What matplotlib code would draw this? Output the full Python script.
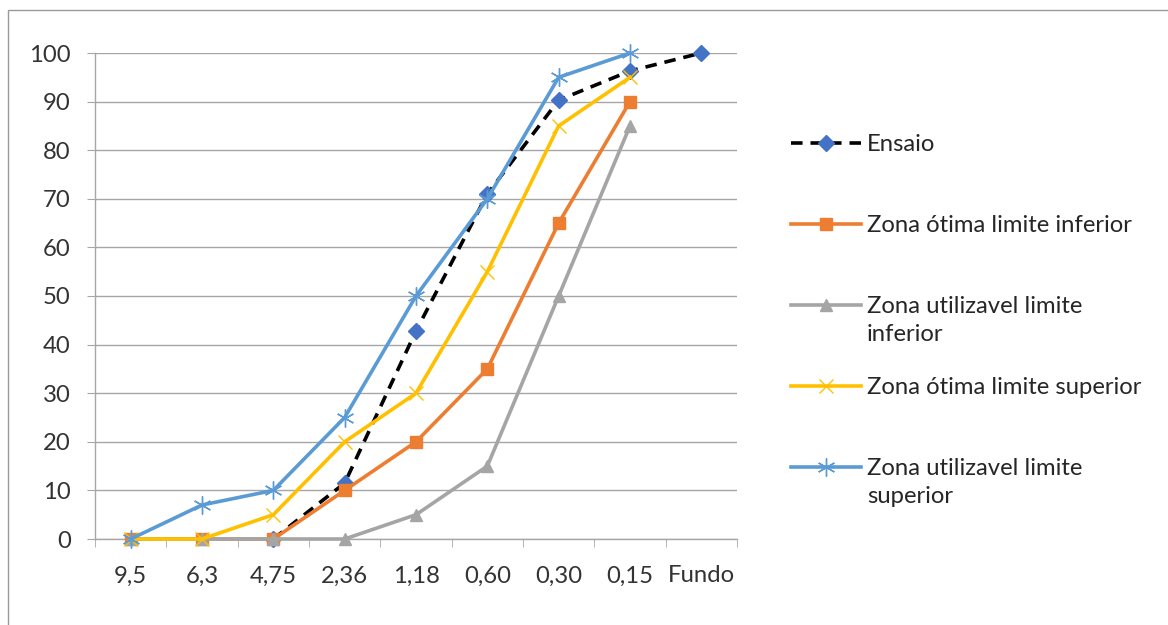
"""
Curva granulometrica - ensaio vs zonas limite
"""
import numpy as np
import matplotlib
matplotlib.use('Agg')
import matplotlib.pyplot as plt
from matplotlib.lines import Line2D
from matplotlib.patches import Rectangle

plt.rcParams['font.family'] = ['Lato', 'DejaVu Sans']

# peneiras (mm)
categories = ['9,5', '6,3', '4,75', '2,36', '1,18', '0,60', '0,30', '0,15', 'Fundo']

# % passante acumulada
ensaio = [np.nan, np.nan, 0, 11.5, 42.8, 71, 90.3, 96.3, 100]
otima_inf = [0, 0, 0, 10, 20, 35, 65, 90, np.nan]
util_inf = [0, 0, 0, 0, 5, 15, 50, 85, np.nan]
otima_sup = [0, 0, 5, 20, 30, 55, 85, 95, np.nan]
util_sup = [0, 7, 10, 25, 50, 70, 95, 100, np.nan]

labels = ['Ensaio', 'Zona ótima limite inferior', 'Zona utilizavel limite\ninferior',
          'Zona ótima limite superior', 'Zona utilizavel limite\nsuperior']

W, H = 1168, 625
FS = 17.2
fig = plt.figure(figsize=(W / 100, H / 100), dpi=100)
fig.patch.set_facecolor('white')

# chart border (only top/left visible in the crop)
fig.add_artist(Rectangle((8 / W, -0.1), 1.2, 1 - 9.5 / H + 0.1, transform=fig.transFigure,
                         fill=False, edgecolor='#9a9a9a', linewidth=1))

ax = fig.add_axes([95 / W, (H - 539) / H, (737 - 95) / W, (539 - 53) / H])

x = np.arange(len(categories))
grid_c = '#a6a6a6'
text_c = '#333333'

styles = [
    dict(color='black', ls=(0, (3.2, 2.2)), lw=2.6, marker='D', ms=8,
         mfc='#4472c4', mec='#4472c4'),
    dict(color='#ed7d31', ls='-', lw=2.6, marker='s', ms=9,
         mfc='#ed7d31', mec='#ed7d31'),
    dict(color='#a5a5a5', ls='-', lw=2.6, marker='^', ms=9,
         mfc='#a5a5a5', mec='#a5a5a5'),
    dict(color='#ffc000', ls='-', lw=2.6, marker='x', ms=10, mew=1.0,
         mec='#ffc000'),
    dict(color='#5b9bd5', ls='-', lw=2.6, marker=(6, 2, 0), ms=13, mew=1.0,
         mec='#5b9bd5'),
]
series = [ensaio, otima_inf, util_inf, otima_sup, util_sup]

for vals, st in zip(series, styles):
    ax.plot(x, vals, clip_on=False, zorder=3, **st)

ax.set_xlim(-0.5, len(categories) - 0.5)
ax.set_ylim(0, 100)
ax.set_yticks(np.arange(0, 101, 10))
ax.set_xticks(x)
ax.set_xticklabels(categories)
ax.set_xticks(np.arange(-0.5, len(categories), 1), minor=True)

ax.grid(axis='y', color=grid_c, linewidth=1)
ax.set_axisbelow(True)
for s in ['top', 'right']:
    ax.spines[s].set_visible(False)
for s in ['left', 'bottom']:
    ax.spines[s].set_color(grid_c)
    ax.spines[s].set_linewidth(1)

ax.tick_params(axis='y', length=6, color=grid_c, pad=11.5, labelsize=FS, labelcolor=text_c)
ax.tick_params(axis='x', which='major', length=0, pad=19, labelsize=FS, labelcolor=text_c)
ax.tick_params(axis='x', which='minor', length=6, color=grid_c)

# legend, drawn by hand to keep Excel's slot layout
for i, (lab, st) in enumerate(zip(labels, styles)):
    yc = 1 - (143 + 81 * i) / H
    fig.add_artist(Line2D([791 / W, 861 / W], [yc, yc], transform=fig.transFigure, **{
        k: v for k, v in st.items() if k in ('color', 'ls', 'lw')}))
    mk = {k: v for k, v in st.items() if k in ('marker', 'ms', 'mfc', 'mec', 'mew')}
    fig.add_artist(Line2D([826 / W], [yc], transform=fig.transFigure, ls='none', **mk))
    fig.text(867 / W, yc + 9 / H, lab, fontsize=FS, color='#262626',
             va='top', ha='left', linespacing=1.42)

fig.savefig('out.png', dpi=100, facecolor='white')
